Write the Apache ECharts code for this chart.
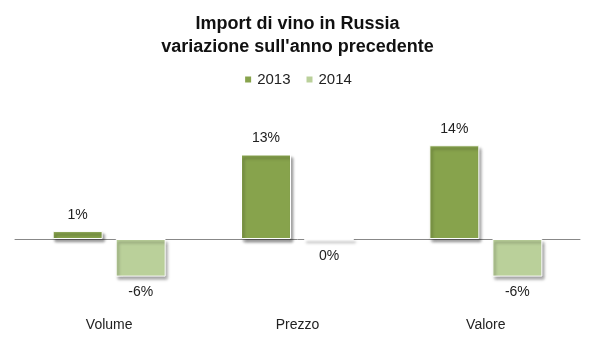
<!DOCTYPE html>
<html>
<head>
<meta charset="utf-8">
<script src="https://cdn.jsdelivr.net/npm/echarts@6/dist/echarts.min.js"></script>
<style>html,body{margin:0;padding:0;background:#fff}#c{width:595px;height:342px}</style>
</head>
<body>
<div id="c"></div>
<script>
const titleText = "Import di vino in Russia\nvariazione sull'anno precedente";
const categories = ["Volume", "Prezzo", "Valore"];
const seriesNames = ["2013", "2014"];
const values2013 = [1.2, 12.8, 14.2];
const values2014 = [-5.7, -0.1, -5.7];
const colors = ["#87a34c", "#bad09a"];

const chart = echarts.init(document.getElementById('c'), null, {renderer: 'canvas'});
const font = "'Liberation Sans', Arial, sans-serif";

function mk(vals) {
  return vals.map(v => ({value: v, label: {position: v < 0 ? 'bottom' : 'top'}}));
}
function series(name, vals, color) {
  return {
    name: name, type: 'bar', xAxisIndex: 0, barWidth: 50, barGap: '26%',
    data: mk(vals),
    itemStyle: {color: color, borderColor: '#ffffff', borderWidth: 1,
      shadowColor: 'rgba(0,0,0,0.4)', shadowBlur: 3, shadowOffsetX: 2, shadowOffsetY: 3},
    label: {show: true, distance: 9, fontFamily: font, fontSize: 14, color: '#222',
      formatter: p => Math.round(p.value) + '%'}
  };
}

chart.setOption({
  animation: false,
  title: {text: titleText, left: 'center', top: 8,
    textStyle: {fontFamily: font, fontWeight: 'bold', fontSize: 18, lineHeight: 23, color: '#111'}},
  legend: {top: 67, left: 'center', itemWidth: 8, itemHeight: 8, itemGap: 14, icon: 'rect',
    textStyle: {fontFamily: font, fontSize: 15, color: '#222'}},
  grid: {left: 15, right: 15, top: 107, bottom: 37},
  xAxis: [
    {type: 'category', data: categories, axisLine: {onZero: true, lineStyle: {color: '#888', width: 1}},
     axisTick: {show: false}, axisLabel: {show: false}},
    {type: 'category', data: categories, position: 'bottom', axisLine: {show: false, onZero: false},
     axisTick: {show: false}, axisLabel: {margin: 13, fontFamily: font, fontSize: 14, color: '#222'}}
  ],
  yAxis: {type: 'value', min: -10, max: 20, show: false, splitLine: {show: false}},
  series: [
    series(seriesNames[0], values2013, colors[0]),
    series(seriesNames[1], values2014, colors[1])
  ]
});
</script>
</body>
</html>
